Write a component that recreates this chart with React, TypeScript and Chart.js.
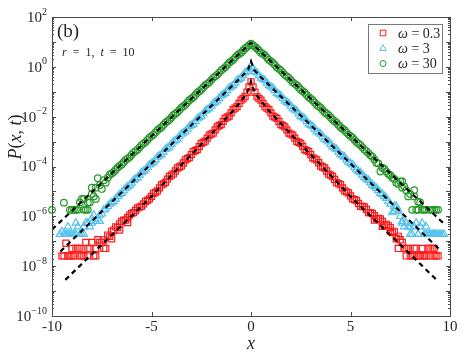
import { useEffect, useRef } from "react";
import { Chart, registerables } from "chart.js";

Chart.register(...registerables);

// ---------- data (values are log10 P(x,t)) ----------
const XS = [
  -10, -9.8, -9.6, -9.4, -9.2, -9, -8.8, -8.6, -8.4, -8.2,
  -8, -7.8, -7.6, -7.4, -7.2, -7, -6.8, -6.6, -6.4, -6.2,
  -6, -5.8, -5.6, -5.4, -5.2, -5, -4.8, -4.6, -4.4, -4.2,
  -4, -3.8, -3.6, -3.4, -3.2, -3, -2.8, -2.6, -2.4, -2.2,
  -2, -1.8, -1.6, -1.4, -1.2, -1, -0.8, -0.6, -0.4, -0.2,
  0,
  0.2, 0.4, 0.6, 0.8, 1, 1.2, 1.4, 1.6, 1.8, 2,
  2.2, 2.4, 2.6, 2.8, 3, 3.2, 3.4, 3.6, 3.8, 4,
  4.2, 4.4, 4.6, 4.8, 5, 5.2, 5.4, 5.6, 5.8, 6,
  6.2, 6.4, 6.6, 6.8, 7, 7.2, 7.4, 7.6, 7.8, 8,
  8.2, 8.4, 8.6, 8.8, 9, 9.2, 9.4, 9.6, 9.8, 10,
];

const X_MID = [
  -9.9, -9.7, -9.5, -9.3, -9.1, -8.9, -8.7, -8.5, -8.3, -8.1,
  -7.9, -7.7, -7.5, -7.3, -7.1, -6.9, -6.7, -6.5, -6.3, -6.1,
  -5.9, -5.7, -5.5, -5.3, -5.1, -4.9, -4.7, -4.5, -4.3, -4.1,
  -3.9, -3.7, -3.5, -3.3, -3.1, -2.9, -2.7, -2.5, -2.3, -2.1,
  -1.9, -1.7, -1.5, -1.3, -1.1, -0.9, -0.7, -0.5, -0.3, -0.1,
  0.1, 0.3, 0.5, 0.7, 0.9, 1.1, 1.3, 1.5, 1.7, 1.9,
  2.1, 2.3, 2.5, 2.7, 2.9, 3.1, 3.3, 3.5, 3.7, 3.9,
  4.1, 4.3, 4.5, 4.7, 4.9, 5.1, 5.3, 5.5, 5.7, 5.9,
  6.1, 6.3, 6.5, 6.7, 6.9, 7.1, 7.3, 7.5, 7.7, 7.9,
  8.1, 8.3, 8.5, 8.7, 8.9, 9.1, 9.3, 9.5, 9.7, 9.9,
];

const RED_LOG = [
  null, null, null, -7.59, -7.59, -7.59, -7.29, -7.59, -7.59, -7.29,
  -7.05, -7.29, -7.05, -6.95, -6.75, -6.6, -6.42, -6.3, -6.15, -6.05,
  -5.88, -5.76, -5.63, -5.5, -5.36, -5.2, -5.04, -4.86, -4.7, -4.51,
  -4.35, -4.18, -4.02, -3.86, -3.68, -3.52, -3.36, -3.2, -3.03, -2.86,
  -2.7, -2.53, -2.36, -2.19, -2.02, -1.85, -1.66, -1.47, -1.28, -1.02,
  -0.6,
  -1.02, -1.28, -1.47, -1.66, -1.85, -2.02, -2.19, -2.36, -2.53, -2.7,
  -2.86, -3.03, -3.19, -3.36, -3.52, -3.69, -3.85, -4.02, -4.18, -4.35,
  -4.52, -4.69, -4.86, -5.02, -5.18, -5.33, -5.48, -5.6, -5.72, -5.85,
  -5.97, -6.08, -6.2, -6.32, -6.45, -6.6, -6.8, -7.05, -7.29, -7.59,
  -7.29, -7.59, -7.29, -7.59, -7.59, -7.29, -7.59, null, null, null,
];
const RED_MID = [
  null, null, -7.59, -7.08, -7.59, -7.59, -7.29, -7.59, -7.05, -7.29,
  -7.59, -6.94, -7.05, -7.29, -6.8, -6.55, -6.45, -6.2, -6.15, -5.95,
  -5.85, -5.66, -5.6, -5.4, -5.3, -5.08, -4.98, -4.74, -4.64, -4.4,
  -4.3, -4.06, -3.98, -3.73, -3.64, -3.4, -3.32, -3.07, -2.98, -2.74,
  -2.66, -2.41, -2.32, -2.07, -1.98, -1.72, -1.6, -1.34, -1.2, -0.8,
  -0.8, -1.2, -1.34, -1.6, -1.72, -1.98, -2.07, -2.32, -2.41, -2.66,
  -2.74, -2.99, -3.07, -3.32, -3.4, -3.65, -3.73, -3.98, -4.06, -4.31,
  -4.4, -4.65, -4.73, -4.98, -5.06, -5.3, -5.36, -5.6, -5.62, -5.85,
  -5.88, -6.1, -6.1, -6.35, -6.38, -6.65, -6.9, -6.94, -7.29, -7.29,
  -7.59, -7.29, -7.59, -7.59, -7.29, -7.29, -7.59, null, null, null,
];

const BLUE_LOG = [
  null, null, -6.72, -6.72, -6.42, -6.72, -6.27, -6.72, -6.42, -6.27,
  -6.1, -6.2, -5.95, -5.75, -5.6, -5.45, -5.3, -5.12, -4.97, -4.81,
  -4.66, -4.5, -4.34, -4.19, -4.03, -3.88, -3.73, -3.57, -3.42, -3.26,
  -3.11, -2.96, -2.8, -2.65, -2.49, -2.34, -2.19, -2.03, -1.88, -1.72,
  -1.57, -1.42, -1.26, -1.11, -0.95, -0.8, -0.65, -0.5, -0.35, -0.19,
  0.03,
  -0.19, -0.35, -0.5, -0.65, -0.8, -0.95, -1.11, -1.26, -1.42, -1.57,
  -1.72, -1.88, -2.03, -2.19, -2.34, -2.49, -2.65, -2.8, -2.96, -3.11,
  -3.26, -3.42, -3.57, -3.73, -3.88, -4.03, -4.19, -4.34, -4.5, -4.65,
  -4.8, -4.96, -5.11, -5.27, -5.5, -5.8, -5.75, -6.2, -6.27, -6.72,
  -6.42, -6.72, -6.27, -6.72, -6.72, -6.72, -6.72, -6.72, null, null,
];
const BLUE_MID = [
  null, null, -6.61, -6.72, -6.72, -6.72, -6.42, -6.72, -6.27, -6.42,
  -5.95, -6.1, -5.9, -5.7, -5.5, -5.4, -5.2, -5.07, -4.87, -4.75,
  -4.55, -4.44, -4.24, -4.13, -3.93, -3.82, -3.62, -3.52, -3.31, -3.21,
  -3.01, -2.9, -2.7, -2.6, -2.39, -2.29, -2.08, -1.98, -1.77, -1.67,
  -1.47, -1.36, -1.16, -1.06, -0.85, -0.75, -0.54, -0.45, -0.24, -0.08,
  -0.08, -0.24, -0.45, -0.54, -0.75, -0.85, -1.06, -1.16, -1.36, -1.47,
  -1.67, -1.77, -1.98, -2.08, -2.29, -2.39, -2.6, -2.7, -2.9, -3.01,
  -3.21, -3.31, -3.52, -3.62, -3.82, -3.93, -4.13, -4.24, -4.44, -4.55,
  -4.75, -4.87, -5.07, -5.2, -5.4, -5.85, -5.6, -6.0, -6.42, -6.42,
  -6.72, -6.27, -6.42, -6.72, -6.72, -6.72, -6.72, -6.72, -6.72, null,
];

const GREEN_LOG = [
  -5.74, null, null, -5.45, null, -5.74, -5.74, -5.44, -5.74, -5.44,
  -5.1, -4.85, -4.75, -4.55, -4.45, -4.28, -4.13, -3.98, -3.83, -3.68,
  -3.53, -3.38, -3.23, -3.08, -2.93, -2.78, -2.63, -2.48, -2.33, -2.18,
  -2.03, -1.88, -1.73, -1.58, -1.43, -1.28, -1.13, -0.98, -0.83, -0.68,
  -0.53, -0.38, -0.23, -0.08, 0.07, 0.22, 0.37, 0.52, 0.66, 0.8,
  0.93,
  0.8, 0.66, 0.52, 0.37, 0.22, 0.07, -0.08, -0.23, -0.38, -0.53,
  -0.68, -0.83, -0.98, -1.13, -1.28, -1.43, -1.58, -1.73, -1.88, -2.03,
  -2.18, -2.33, -2.48, -2.63, -2.78, -2.93, -3.08, -3.23, -3.38, -3.55,
  -3.72, -3.88, -4.05, -4.2, -4.35, -4.5, -4.7, -4.85, -4.95, -5.1,
  -5.2, -5.41, -5.74, -5.74, -5.74, -5.74, -5.74, null, null, null,
];
const GREEN_MID = [
  null, null, null, null, -5.74, -5.74, -5.74, -5.3, -5.74, -5.44,
  -5.2, -4.47, -4.9, -4.65, -4.33, -4.22, -4.04, -3.92, -3.74, -3.62,
  -3.44, -3.32, -3.14, -3.02, -2.84, -2.72, -2.54, -2.42, -2.24, -2.12,
  -1.94, -1.82, -1.64, -1.52, -1.34, -1.22, -1.04, -0.92, -0.74, -0.62,
  -0.44, -0.32, -0.14, -0.02, 0.16, 0.28, 0.46, 0.57, 0.74, 0.87,
  0.87, 0.74, 0.57, 0.46, 0.28, 0.16, -0.02, -0.14, -0.32, -0.44,
  -0.62, -0.74, -0.92, -1.04, -1.22, -1.34, -1.52, -1.64, -1.82, -1.94,
  -2.12, -2.24, -2.42, -2.54, -2.72, -2.84, -3.02, -3.14, -3.32, -3.46,
  -3.6, -3.85, -4.2, -4.1, -4.3, -4.45, -4.65, -4.6, -4.8, -5.2,
  -5.74, -5.74, -5.44, -5.74, null, -5.74, -5.74, null, null, null,
];

// second-level points in the noisy tails
const RED_EXTRA_X = [-9.0, -8.6, -8.2, -7.8, -7.4, -7.0, -6.6, -6.2, 6.2, 6.6, 7.0, 7.4, 7.8, 8.2, 8.6, 9.0, 9.2];
const RED_EXTRA_LOG = [-7.29, -7.29, -7.59, -7.59, -7.29, -6.9, -6.55, -6.25, -6.15, -6.4, -6.6, -7.29, -7.59, -7.59, -7.59, -7.29, -7.59];
const BLUE_EXTRA_X = [-9.2, -8.8, -8.4, -8.0, -7.6, 7.2, 7.6, 8.0, 8.4, 8.8, 9.2];
const BLUE_EXTRA_LOG = [-6.72, -6.72, -6.72, -6.27, -6.2, -5.6, -6.27, -6.42, -6.72, -6.42, -6.72];
const GREEN_EXTRA_X = [-8.4, -8.2, -8.0, -7.8, 7.6, 8.2, 8.4];
const GREEN_EXTRA_LOG = [-5.3, -5.74, -4.85, -5.3, -4.6, -4.95, -5.74];

// theoretical curves (dashed)
const RED_FIT_X = [-9.33, -8, -7, -6, -5, -4, -3, -2, -1, -0.5, -0.25, -0.1, 0, 0.1, 0.25, 0.5, 1, 2, 3, 4, 5, 6, 7, 8, 9.33];
const RED_FIT_LOG = [-8.55, -7.52, -6.75, -5.98, -5.2, -4.35, -3.52, -2.7, -1.85, -1.38, -1.1, -0.85, -0.58, -0.85, -1.1, -1.38, -1.85, -2.7, -3.52, -4.35, -5.2, -5.98, -6.75, -7.52, -8.55];
const BLUE_FIT_X = [-9.58, -0.5, -0.15, 0, 0.15, 0.5, 9.45];
const BLUE_FIT_LOG = [-7.41, -0.42, -0.12, 0.22, -0.12, -0.42, -7.31];
const GREEN_FIT_X = [-10, 0, 9.7];
const GREEN_FIT_LOG = [-6.53, 0.97, -6.3];

const LEGEND_LABELS = ["0.3", "3", "30"];
const X_TICKS = [-10, -5, 0, 5, 10];
const Y_TICK_EXPONENTS = [-10, -8, -6, -4, -2, 0, 2];

const RED = "#ff1a1a";
const BLUE = "#55c2ee";
const GREEN = "#27992a";
const FONT = "'Liberation Serif', 'DejaVu Serif', serif";

function toPoints(xs: number[], logs: (number | null)[]) {
  const out: { x: number; y: number }[] = [];
  xs.forEach((x, i) => {
    const v = logs[i];
    if (v !== null && v !== undefined) out.push({ x, y: Math.pow(10, v) });
  });
  return out;
}

type Seg = [string, boolean, number, number?];

function drawRich(ctx: CanvasRenderingContext2D, segs: Seg[], x: number, y: number, align: "left" | "center" | "right") {
  let total = 0;
  const widths = segs.map(([t, it, sz]) => {
    ctx.font = `${it ? "italic " : ""}${sz}px ${FONT}`;
    const w = ctx.measureText(t).width;
    total += w;
    return w;
  });
  let cx = align === "center" ? x - total / 2 : align === "right" ? x - total : x;
  ctx.textAlign = "left";
  segs.forEach(([t, it, sz, dy], i) => {
    ctx.font = `${it ? "italic " : ""}${sz}px ${FONT}`;
    ctx.fillText(t, cx, y + (dy || 0));
    cx += widths[i];
  });
}

function drawMarker(ctx: CanvasRenderingContext2D, kind: string, x: number, y: number, color: string) {
  ctx.save();
  ctx.strokeStyle = color;
  ctx.lineWidth = 1;
  ctx.beginPath();
  if (kind === "rect") {
    ctx.rect(x - 2.8, y - 2.8, 5.6, 5.6);
  } else if (kind === "triangle") {
    const r = 3.8;
    ctx.moveTo(x, y - r);
    ctx.lineTo(x + r * 0.866, y + r * 0.5);
    ctx.lineTo(x - r * 0.866, y + r * 0.5);
    ctx.closePath();
  } else {
    ctx.arc(x, y, 3, 0, Math.PI * 2);
  }
  ctx.stroke();
  ctx.restore();
}

const decorPlugin = {
  id: "decor",
  afterDraw(chart: any) {
    const ctx: CanvasRenderingContext2D = chart.ctx;
    const { left, right, top, bottom } = chart.chartArea;
    const xs = chart.scales.x;
    const ys = chart.scales.y;
    ctx.save();
    ctx.strokeStyle = "#4a4a4a";
    ctx.lineWidth = 1;
    ctx.strokeRect(Math.round(left) + 0.5, Math.round(top) + 0.5, Math.round(right - left), Math.round(bottom - top));
    ctx.beginPath();
    X_TICKS.forEach((t) => {
      const px = Math.round(xs.getPixelForValue(t)) + 0.5;
      ctx.moveTo(px, bottom);
      ctx.lineTo(px, bottom - 4);
      ctx.moveTo(px, top);
      ctx.lineTo(px, top + 4);
    });
    for (let e = -10; e <= 2; e++) {
      const py = Math.round(ys.getPixelForValue(Math.pow(10, e))) + 0.5;
      ctx.moveTo(left, py);
      ctx.lineTo(left + 4, py);
      ctx.moveTo(right, py);
      ctx.lineTo(right - 4, py);
      if (e < 2) {
        for (let m = 2; m <= 9; m++) {
          const pm = Math.round(ys.getPixelForValue(m * Math.pow(10, e))) + 0.5;
          ctx.moveTo(left, pm);
          ctx.lineTo(left + 2, pm);
          ctx.moveTo(right, pm);
          ctx.lineTo(right - 2, pm);
        }
      }
    }
    ctx.stroke();

    ctx.fillStyle = "#262626";
    ctx.textBaseline = "middle";
    X_TICKS.forEach((t) => {
      const px = xs.getPixelForValue(t);
      drawRich(ctx, [[String(t), false, 15]], px, bottom + 11, "center");
    });
    Y_TICK_EXPONENTS.forEach((e) => {
      const py = ys.getPixelForValue(Math.pow(10, e));
      const sup = e < 0 ? "\u2212" + Math.abs(e) : String(e);
      drawRich(ctx, [["10", false, 15], [sup, false, 10, -6]], left - 5, py + 1, "right");
    });
    drawRich(ctx, [["x", true, 18]], (left + right) / 2, bottom + 28, "center");
    ctx.save();
    ctx.translate(16, 137);
    ctx.rotate(-Math.PI / 2);
    drawRich(ctx, [["P", true, 18], ["(", false, 18], ["x", true, 18], [", ", false, 18], ["t", true, 18], [")", false, 18]], 0, 0, "center");
    ctx.restore();

    ctx.textBaseline = "alphabetic";
    drawRich(ctx, [["(b)", false, 19]], left + 5, top + 20, "left");
    drawRich(ctx, [["r", true, 12], ["  =  1,  ", false, 12], ["t", true, 12], ["  =  10", false, 12]], left + 10, top + 39, "left");

    const lx = 368, ly = 24, lw = 74, lh = 49;
    ctx.fillStyle = "#ffffff";
    ctx.fillRect(lx, ly, lw, lh);
    ctx.strokeStyle = "#7a7a7a";
    ctx.strokeRect(lx + 0.5, ly + 0.5, lw, lh);
    const kinds = ["rect", "triangle", "circle"];
    const cols = [RED, BLUE, GREEN];
    const rows = [33, 48.5, 63.5];
    ctx.fillStyle = "#262626";
    ctx.textBaseline = "middle";
    LEGEND_LABELS.forEach((lab, i) => {
      drawMarker(ctx, kinds[i], 383, rows[i], cols[i]);
      drawRich(ctx, [["\u03c9", true, 14], [" = " + lab, false, 14]], 398, rows[i] + 1, "left");
    });
    ctx.restore();
  },
};

export default function App() {
  const ref = useRef<HTMLCanvasElement | null>(null);
  useEffect(() => {
    if (!ref.current) return;
    const fitStyle = (data: any[]) => ({
      data,
      showLine: true,
      borderColor: "#000000",
      borderWidth: 2.2,
      borderDash: [5, 4],
      pointRadius: 0,
      fill: false,
    });
    const markerStyle = (data: any[], color: string, style: string, radius: number) => ({
      data,
      showLine: false,
      borderColor: color,
      backgroundColor: "rgba(0,0,0,0)",
      borderWidth: 1.2,
      pointStyle: style,
      pointRadius: radius,
      clip: false,
    });
    const series = (xs: number[], a: (number | null)[], xm: number[], b: (number | null)[], xe: number[], c: (number | null)[]) =>
      toPoints(xs, a).concat(toPoints(xm, b)).concat(toPoints(xe, c));
    const chart = new Chart(ref.current, {
      type: "scatter",
      data: {
        datasets: [
          fitStyle(toPoints(GREEN_FIT_X, GREEN_FIT_LOG)),
          fitStyle(toPoints(BLUE_FIT_X, BLUE_FIT_LOG)),
          fitStyle(toPoints(RED_FIT_X, RED_FIT_LOG)),
          markerStyle(series(XS, GREEN_LOG, X_MID, GREEN_MID, GREEN_EXTRA_X, GREEN_EXTRA_LOG), GREEN, "circle", 3.3),
          markerStyle(series(XS, BLUE_LOG, X_MID, BLUE_MID, BLUE_EXTRA_X, BLUE_EXTRA_LOG), BLUE, "triangle", 4.3),
          markerStyle(series(XS, RED_LOG, X_MID, RED_MID, RED_EXTRA_X, RED_EXTRA_LOG), RED, "rect", 4.3),
        ] as any,
      },
      options: {
        animation: false,
        responsive: false,
        devicePixelRatio: 1,
        layout: { padding: { left: 52, right: 19, top: 17, bottom: 36 } },
        plugins: { legend: { display: false }, tooltip: { enabled: false } },
        scales: {
          x: { type: "linear", min: -10, max: 10, display: false },
          y: { type: "logarithmic", min: 1e-10, max: 1e2, display: false },
        },
      },
      plugins: [decorPlugin],
    });
    return () => chart.destroy();
  }, []);
  return (
    <div style={{ position: "fixed", left: 0, top: 0, width: 469, height: 352, background: "#fff" }}>
      <canvas ref={ref} width={469} height={352} style={{ display: "block" }} />
    </div>
  );
}
